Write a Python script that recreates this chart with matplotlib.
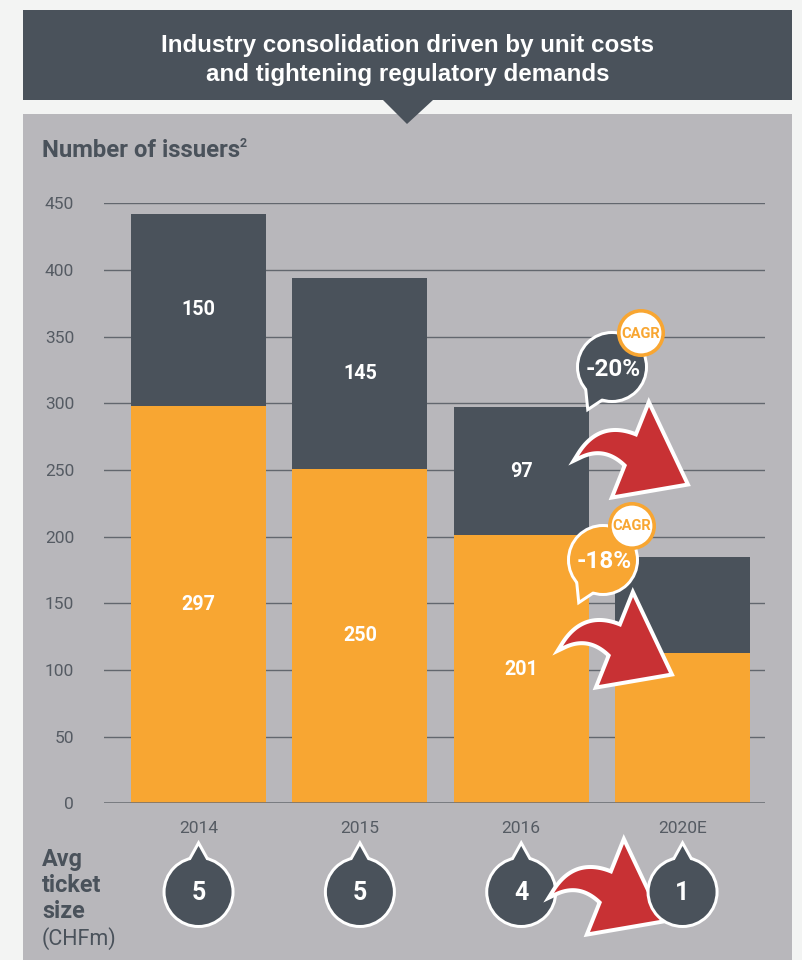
import matplotlib
matplotlib.use("Agg")
import matplotlib.pyplot as plt
from matplotlib.patches import Rectangle, Polygon, Circle
import numpy as np

# ---------------- data ----------------
categories = ["2014", "2015", "2016", "2020E"]
lower = [298, 251, 201, 113]          # orange segment (as drawn)
upper = [144, 143, 96, 72]            # dark segment (as drawn)
lower_labels = ["297", "250", "201", ""]
upper_labels = ["150", "145", "97", ""]
ticket_size = ["5", "5", "4", "1"]
cagr_upper = "-20%"
cagr_lower = "-18%"
yticks = [0, 50, 100, 150, 200, 250, 300, 350, 400, 450]

# ---------------- style ----------------
W, H = 802, 960
BG = "#f3f4f3"
DARK = "#4a525b"
PANEL = "#b8b7bb"
ORANGE = "#f8a632"
RED = "#c83134"
TXT = "#555b63"
GRID = "#62676e"
FONT = ["Roboto", "DejaVu Sans"]
TFONT = ["Liberation Sans", "DejaVu Sans"]
PX = 0.72  # points per pixel

plt.rcParams["font.family"] = FONT

fig = plt.figure(figsize=(W / 100, H / 100), dpi=100)
fig.patch.set_facecolor(BG)

# background axes in pixel coordinates
bg = fig.add_axes([0, 0, 1, 1])
bg.set_xlim(0, W)
bg.set_ylim(H, 0)
bg.axis("off")
bg.set_zorder(0)
bg.add_patch(Rectangle((23, 10), 769, 90, color=DARK, lw=0))
bg.add_patch(Rectangle((23, 114), 769, 846, color=PANEL, lw=0))
bg.add_patch(Polygon([(383, 100), (433, 100), (407, 124)], closed=True, color=DARK, lw=0))
bg.text(407.5, 52, "Industry consolidation driven by unit costs", color="white",
        fontsize=17.4, fontweight="bold", ha="center", va="baseline", family=TFONT)
bg.text(407.5, 81, "and tightening regulatory demands", color="white",
        fontsize=17.4, fontweight="bold", ha="center", va="baseline", family=TFONT)
t_num = bg.text(42, 157, "Number of issuers", color=DARK, fontsize=17.2,
                fontweight="bold", ha="left", va="baseline")

# ---------------- chart ----------------
ax = fig.add_axes([104 / W, (H - 803.3) / H, 661 / W, 600 / H])
ax.set_zorder(1)
ax.patch.set_alpha(0)
x = np.arange(len(categories))
bw = 0.837
ax.bar(x, lower, width=bw, color=ORANGE, zorder=2, lw=0)
ax.bar(x, upper, bottom=lower, width=bw, color=DARK, zorder=2, lw=0)
ax.set_xlim(-0.586, 3.511)
ax.set_ylim(0, 450)
ax.set_yticks(yticks)
ax.set_xticks(x, categories)
ax.grid(axis="y", color=GRID, lw=1.0)
ax.grid(axis="x", visible=False)
ax.set_axisbelow(True)
ax.axhline(0, color="#6b6e74", lw=1.8, zorder=3)
for s in ax.spines.values():
    s.set_visible(False)
ax.tick_params(axis="y", length=0, pad=21.5, labelsize=12.5, labelcolor=TXT)
ax.tick_params(axis="x", length=0, pad=13, labelsize=12.5, labelcolor=TXT)

for i in range(len(categories)):
    if lower_labels[i]:
        ax.text(x[i], lower[i] / 2, lower_labels[i], color="white", fontsize=14.2,
                fontweight="bold", ha="center", va="center", zorder=4)
    if upper_labels[i]:
        ax.text(x[i], lower[i] + upper[i] / 2, upper_labels[i], color="white",
                fontsize=14.2, fontweight="bold", ha="center", va="center", zorder=4)

# ---------------- overlay (pixel coordinates) ----------------
ov = fig.add_axes([0, 0, 1, 1])
ov.set_xlim(0, W)
ov.set_ylim(H, 0)
ov.axis("off")
ov.set_zorder(2)
ov.patch.set_alpha(0)

fig.canvas.draw()

# superscript after "Number of issuers"
ext = t_num.get_window_extent()
bg.text(ext.x1 - 1, 147, "2", color=DARK, fontsize=9, fontweight="bold",
        ha="left", va="baseline")


def bar_px(i):
    d = ax.transData.transform((x[i], 0))
    return d[0]


def qbez(p0, c, p1, n=30):
    t = np.linspace(0, 1, n)[:, None]
    p0, c, p1 = map(np.asarray, (p0, c, p1))
    return (1 - t) ** 2 * p0 + 2 * (1 - t) * t * c + t ** 2 * p1


def curved_arrow(tip, z):
    tx, ty = tip
    tail = (-106, -27)
    un = (-48, -46)
    ln = (-58, -18)
    top = (-36, -76)
    bot = (-70, 12)
    up = qbez(tail, (-85, -62), un)
    lo = qbez(ln, (-80, -40), tail)
    pts = np.vstack([up, [top], [(0, 0)], [bot], lo])
    pts = pts + np.array([tx, ty])
    ov.add_patch(Polygon(pts, closed=True, fc="white", ec="white", lw=8 * PX,
                         joinstyle="miter", zorder=z))
    ov.add_patch(Polygon(pts, closed=True, fc=RED, ec="none", lw=0, zorder=z + 0.1))


def bubble(cx, cy, fill, text, z):
    r = 33
    tail = [(cx - 25, cy + 20), (cx - 23, cy + 40), (cx - 5, cy + 28)]
    ov.add_patch(Circle((cx, cy), r, fc="white", ec="white", lw=6 * PX, zorder=z))
    ov.add_patch(Polygon(tail, closed=True, fc="white", ec="white", lw=6 * PX,
                         joinstyle="miter", zorder=z))
    ov.add_patch(Circle((cx, cy), r, fc=fill, ec="none", zorder=z + 0.1))
    ov.add_patch(Polygon(tail, closed=True, fc=fill, ec="none", zorder=z + 0.1))
    ov.text(cx + 1, cy + 2, text, color="white", fontsize=17.5, fontweight="bold",
            ha="center", va="center", zorder=z + 0.2)
    # CAGR badge
    bx, by = cx + 29, cy - 34
    ov.add_patch(Circle((bx, by), 22.2, fc="white", ec=ORANGE, lw=3.6 * PX, zorder=z + 0.3))
    ov.text(bx, by + 0.5, "CAGR", color=ORANGE, fontsize=10.6, fontweight="bold",
            ha="center", va="center", zorder=z + 0.4)


def ticket_circle(cx, cy, text, z):
    r = 33
    spike = [(cx - 10, cy - 28), (cx, cy - 46), (cx + 10, cy - 28)]
    ov.add_patch(Circle((cx, cy), r, fc="white", ec="white", lw=6 * PX, zorder=z))
    ov.add_patch(Polygon(spike, closed=True, fc="white", ec="white", lw=6 * PX,
                         joinstyle="miter", zorder=z))
    ov.add_patch(Circle((cx, cy), r, fc=DARK, ec="none", zorder=z + 0.1))
    ov.add_patch(Polygon(spike, closed=True, fc=DARK, ec="none", zorder=z + 0.1))
    ov.text(cx, cy + 1, text, color="white", fontsize=18, fontweight="bold",
            ha="center", va="center", zorder=z + 0.2)


# CAGR arrows and bubbles
curved_arrow((685, 483), 5)
bubble(612, 367, DARK, cagr_upper, 6)
curved_arrow((669, 673), 5)
bubble(603, 560, ORANGE, cagr_lower, 6)

# Avg ticket size row
ov.text(42, 866, "Avg", color=DARK, fontsize=16.8, fontweight="bold", va="baseline")
ov.text(42, 892, "ticket", color=DARK, fontsize=16.8, fontweight="bold", va="baseline")
ov.text(42, 918, "size", color=DARK, fontsize=16.8, fontweight="bold", va="baseline")
ov.text(42, 945, "(CHFm)", color=DARK, fontsize=15.5, va="baseline")

zs = [3, 3, 3, 8]
for i in range(len(categories)):
    ticket_circle(bar_px(i), 892, ticket_size[i], zs[i])
curved_arrow((660, 920), 6)

fig.savefig("out.png", dpi=100, facecolor=fig.get_facecolor())
